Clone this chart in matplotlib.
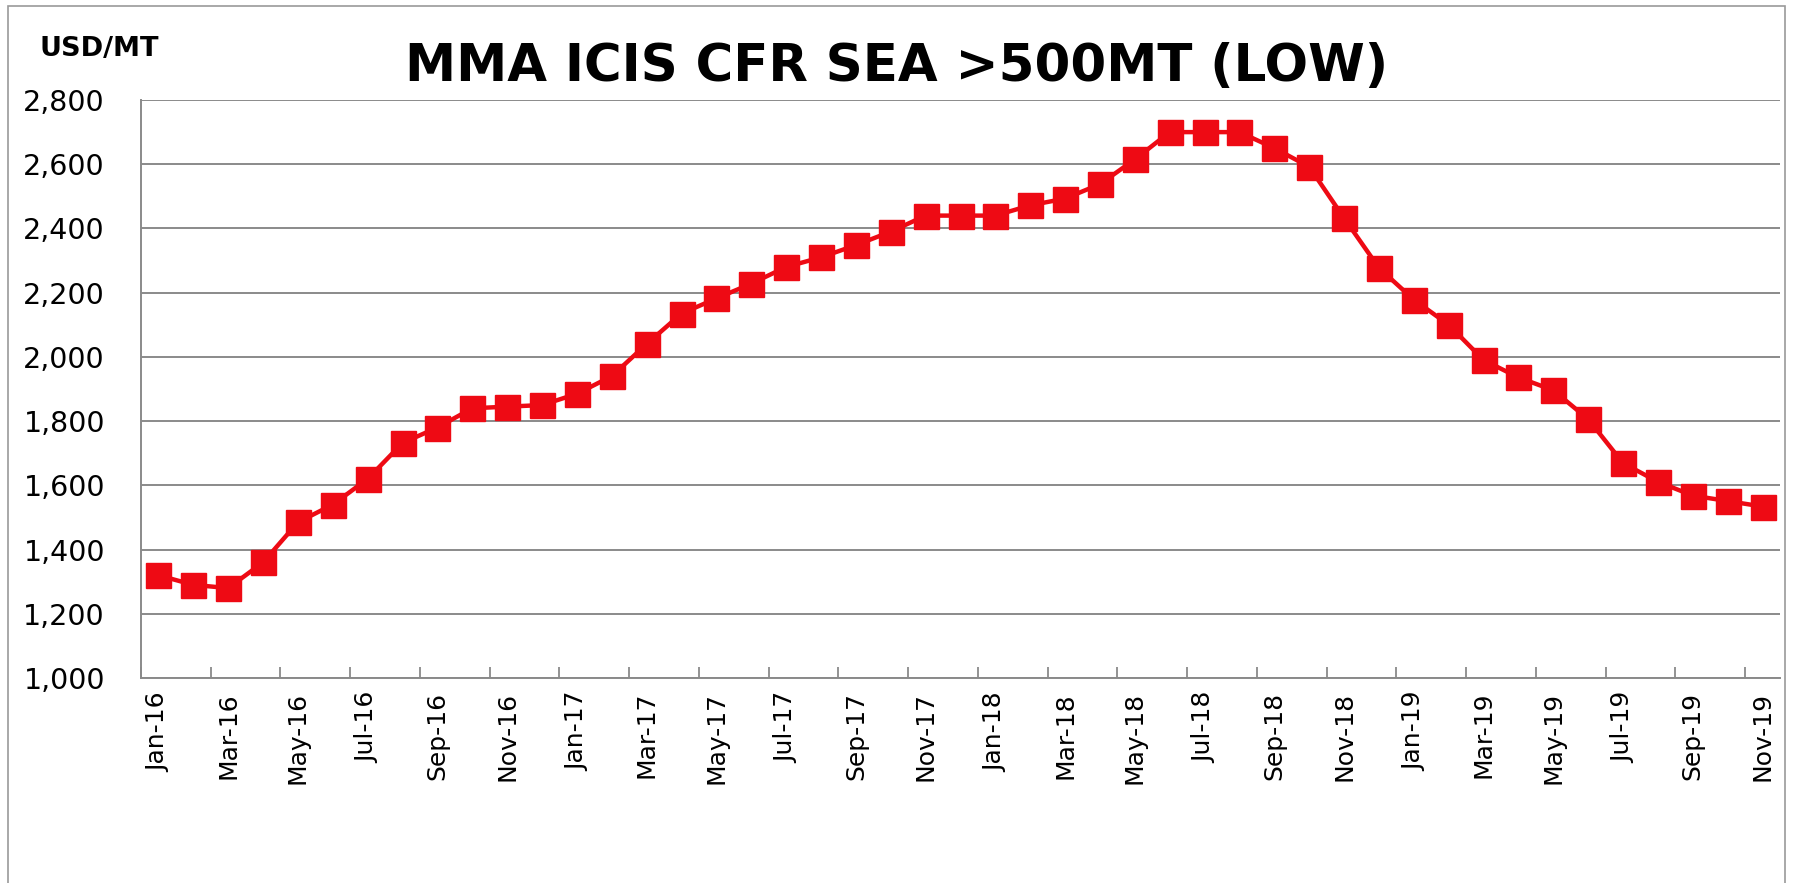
import matplotlib
matplotlib.use("Agg")
import matplotlib.pyplot as plt
from matplotlib.patches import Rectangle
from matplotlib.ticker import FixedLocator, FuncFormatter

months = ["Jan-16", "Feb-16", "Mar-16", "Apr-16", "May-16", "Jun-16", "Jul-16", "Aug-16",
          "Sep-16", "Oct-16", "Nov-16", "Dec-16",
          "Jan-17", "Feb-17", "Mar-17", "Apr-17", "May-17", "Jun-17", "Jul-17", "Aug-17",
          "Sep-17", "Oct-17", "Nov-17", "Dec-17",
          "Jan-18", "Feb-18", "Mar-18", "Apr-18", "May-18", "Jun-18", "Jul-18", "Aug-18",
          "Sep-18", "Oct-18", "Nov-18", "Dec-18",
          "Jan-19", "Feb-19", "Mar-19", "Apr-19", "May-19", "Jun-19", "Jul-19", "Aug-19",
          "Sep-19", "Oct-19", "Nov-19"]
prices = [1320, 1290, 1280, 1360, 1485, 1540, 1620, 1732, 1780, 1840, 1845, 1850,
          1885, 1940, 2040, 2135, 2182, 2228, 2280, 2310, 2348, 2390, 2440, 2440,
          2440, 2472, 2493, 2538, 2615, 2700, 2700, 2700, 2650, 2592, 2432, 2277,
          2178, 2100, 1990, 1936, 1896, 1806, 1669, 1611, 1568, 1551, 1534]
y_ticks = [1000, 1200, 1400, 1600, 1800, 2000, 2200, 2400, 2600, 2800]
title = "MMA ICIS CFR SEA >500MT (LOW)"
unit = "USD/MT"

W, H = 1793, 883
fig = plt.figure(figsize=(W / 100, H / 100), dpi=100)
fig.patch.set_facecolor("white")

# outer frame
fig.patches.append(Rectangle((8 / W, -0.05), (1785 - 8) / W, 1.05 - 6 / H,
                             transform=fig.transFigure, fill=False,
                             edgecolor="#9a9a9a", linewidth=1.2))

ax = fig.add_axes([141 / W, (H - 678) / H, (1780 - 141) / W, (678 - 100) / H])
x = list(range(len(months)))
ax.plot(x, prices, color="#EE0A14", linewidth=3.2, marker="s", markersize=18,
        markerfacecolor="#EE0A14", markeredgecolor="#EE0A14", zorder=3, clip_on=False)

ax.set_xlim(-0.5, len(months) - 0.5)
ax.set_ylim(y_ticks[0], y_ticks[-1])

ax.yaxis.set_major_locator(FixedLocator(y_ticks))
ax.yaxis.set_major_formatter(FuncFormatter(lambda v, p: f"{int(v):,}"))
ax.grid(axis="y", color="#8a8a8a", linewidth=1.4)
ax.set_axisbelow(True)

# ticks at category boundaries every two months, labels at every other month
ax.xaxis.set_major_locator(FixedLocator([i - 0.5 for i in range(0, len(months), 2)]))
ax.xaxis.set_major_formatter(FuncFormatter(lambda v, p: ""))
ax.xaxis.set_minor_locator(FixedLocator(list(range(0, len(months), 2))))
ax.set_xticklabels([months[i] for i in range(0, len(months), 2)], minor=True)
ax.tick_params(axis="x", which="major", direction="in", length=8, width=1.3, color="#8a8a8a")
ax.tick_params(axis="x", which="minor", length=0, pad=10, labelsize=18, labelrotation=90)
ax.tick_params(axis="y", length=0, pad=26, labelsize=20.5)

for s in ["top", "right"]:
    ax.spines[s].set_visible(False)
for s in ["left", "bottom"]:
    ax.spines[s].set_color("#8a8a8a")
    ax.spines[s].set_linewidth(1.4)

fig.text(0.5, 1 - 67 / H, title, ha="center", va="center", fontsize=37,
         fontweight="bold", color="black")
fig.text(40 / W, 1 - 49 / H, unit, ha="left", va="center", fontsize=19.5,
         fontweight="bold", color="black")

fig.savefig("out.png", dpi=100, facecolor="white")
